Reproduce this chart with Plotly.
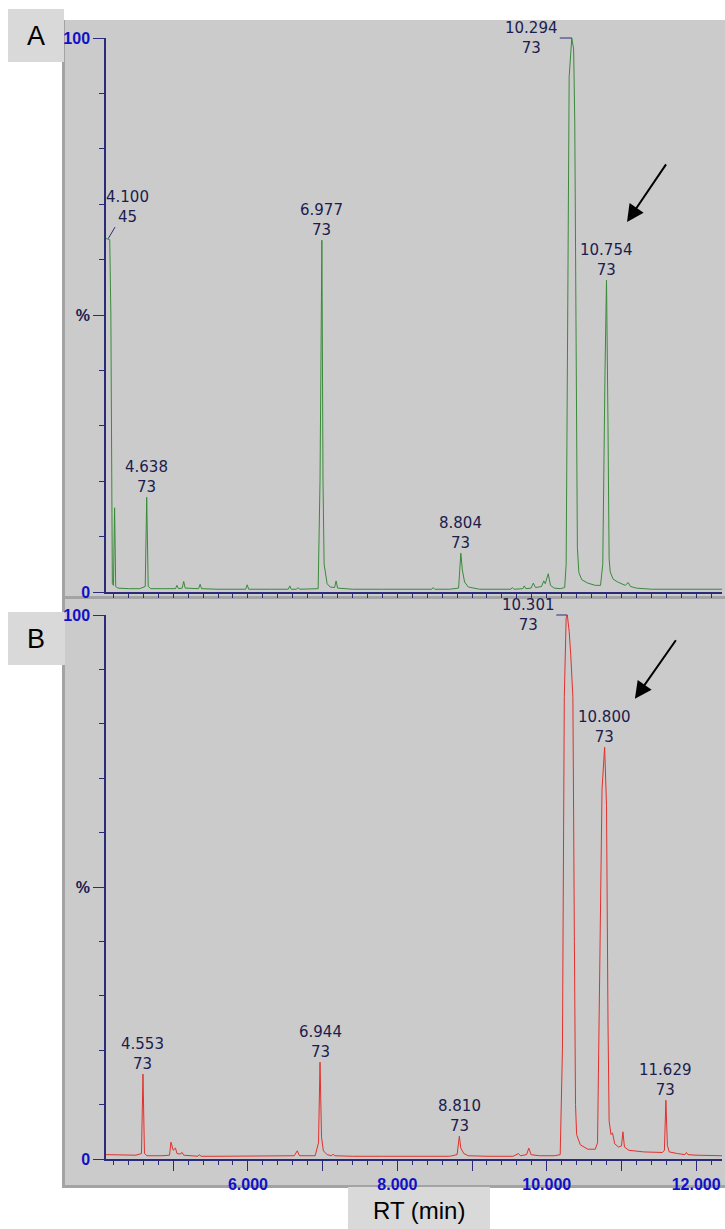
import plotly.graph_objects as go

W, H = 725, 1229

# ---------------- data (retention time in min, relative intensity in %) ----------------
rt_a = [4.10, 4.15, 4.165, 4.175, 4.185, 4.20, 4.215, 4.23, 4.26, 4.40, 4.55, 4.625, 4.645, 4.665,
        4.70, 4.90, 5.03, 5.05, 5.07, 5.12, 5.14, 5.16, 5.34, 5.36, 5.38, 5.60, 5.97, 5.99, 6.01,
        6.30, 6.54, 6.56, 6.58, 6.65, 6.67, 6.69, 6.94, 6.965, 6.99, 7.005, 7.02, 7.06, 7.10, 7.16,
        7.18, 7.20, 7.40, 7.80, 8.20, 8.46, 8.48, 8.50, 8.70, 8.82, 8.85, 8.87, 8.90, 8.95, 9.10,
        9.40, 9.52, 9.54, 9.56, 9.68, 9.70, 9.72, 9.79, 9.82, 9.85, 9.93, 9.96, 9.98, 10.02, 10.05,
        10.10, 10.18, 10.24, 10.26, 10.28, 10.30, 10.335, 10.36, 10.375, 10.39, 10.41, 10.43, 10.47,
        10.55, 10.65, 10.72, 10.75, 10.78, 10.80, 10.82, 10.835, 10.85, 10.865, 10.89, 10.95, 11.05,
        11.09, 11.12, 11.20, 11.40, 11.70, 12.00, 12.346]
int_a = [63.8, 63.6, 50, 8, 1.5, 1.2, 15.2, 1.0, 0.7, 0.6, 0.6, 1.0, 17.1, 1.0,
         0.6, 0.6, 0.6, 1.2, 0.6, 0.7, 1.9, 0.7, 0.6, 1.4, 0.6, 0.5, 0.5, 1.3, 0.5,
         0.5, 0.5, 1.1, 0.5, 0.5, 0.8, 0.5, 0.6, 20, 63.5, 20, 5, 1.5, 0.9, 0.8,
         2.0, 0.7, 0.5, 0.5, 0.5, 0.5, 0.8, 0.5, 0.5, 0.7, 7.0, 4.0, 1.8, 0.9, 0.5,
         0.5, 0.5, 0.8, 0.5, 0.6, 1.1, 0.6, 0.7, 1.6, 0.8, 1.0, 2.0, 1.5, 3.3, 1.2,
         0.7, 0.6, 0.8, 5, 50, 93, 100, 98, 85, 50, 8, 3.5, 2.2,
         1.6, 1.2, 1.2, 5, 40, 56.3, 30, 6, 3.6, 3.2, 2.3, 1.8, 1.2,
         1.7, 1.0, 0.7, 0.5, 0.5, 0.5, 0.5]

rt_b = [4.10, 4.30, 4.50, 4.575, 4.595, 4.615, 4.65, 4.85, 4.95, 4.97, 5.00, 5.03, 5.05, 5.09,
        5.12, 5.14, 5.20, 5.33, 5.35, 5.37, 5.60, 5.97, 5.99, 6.01, 6.40, 6.62, 6.66, 6.69, 6.90,
        6.945, 6.965, 6.985, 7.01, 7.06, 7.12, 7.14, 7.16, 7.40, 7.80, 8.30, 8.70, 8.80, 8.83,
        8.85, 8.89, 8.95, 9.20, 9.55, 9.62, 9.65, 9.73, 9.76, 9.79, 9.90, 10.10, 10.18, 10.21,
        10.235, 10.26, 10.275, 10.30, 10.32, 10.35, 10.37, 10.385, 10.40, 10.45, 10.55, 10.65,
        10.68, 10.71, 10.74, 10.775, 10.80, 10.82, 10.835, 10.86, 10.88, 10.91, 10.96, 11.00,
        11.02, 11.04, 11.10, 11.30, 11.55, 11.575, 11.595, 11.615, 11.64, 11.75, 11.85, 11.87,
        11.89, 12.00, 12.346]
int_b = [0.8, 0.7, 0.7, 1.0, 15.6, 1.0, 0.6, 0.6, 0.7, 3.1, 1.6, 2.0, 1.0, 0.9,
         1.2, 0.7, 0.6, 0.5, 0.8, 0.5, 0.5, 0.5, 0.6, 0.5, 0.5, 0.6, 1.5, 0.6, 0.6,
         3, 17.8, 4, 1.5, 0.8, 0.6, 0.9, 0.6, 0.5, 0.5, 0.5, 0.5, 0.8, 4.2,
         2.0, 1.0, 0.6, 0.5, 0.5, 1.0, 0.6, 0.8, 2.0, 0.8, 0.6, 0.6, 0.8, 20,
         85, 99.5, 100, 97, 93, 85, 40, 10, 4.5, 2.6, 1.8, 1.8,
         3.0, 35, 68, 75.7, 65, 25, 7, 4.5, 4.8, 2.8, 2.2, 2.4,
         5.0, 2.2, 1.6, 1.3, 1.2, 1.6, 10.8, 2.5, 1.3, 1.0, 0.8, 1.2,
         0.8, 0.7, 0.6]

# peak labels (apex position and label text)
peak_a_x = [4.13, 4.645, 6.99, 8.85, 10.335, 10.80]
peak_a_y = [63.8, 17.1, 63.5, 7.0, 100, 56.3]
peak_a_rt = ["4.100", "4.638", "6.977", "8.804", "10.294", "10.754"]
peak_a_mz = ["45", "73", "73", "73", "73", "73"]

peak_b_x = [4.595, 6.965, 8.83, 10.275, 10.775, 11.595]
peak_b_y = [15.6, 17.8, 4.2, 100, 75.7, 10.8]
peak_b_rt = ["4.553", "6.944", "8.810", "10.301", "10.800", "11.629"]
peak_b_mz = ["73", "73", "73", "73", "73", "73"]

x_tickvals = [5, 6, 7, 8, 9, 10, 11, 12]
x_ticktext = ["", "6.000", "", "8.000", "", "10.000", "", "12.000"]
y_tickvals = [0, 50, 100]

# ---------------- styling ----------------
FONT = "Liberation Sans, Arial, Helvetica, sans-serif"
LFONT = "DejaVu Sans, Liberation Sans, sans-serif"
NAVY = "#2b2b7a"
BLUE = "#1010c8"
LABEL = "#1c1c4e"
PANEL = "#cbcbcb"
EDGE = "#a3a3a3"
BOX = "#d9d9d9"
X_RANGE = [4.10, 12.346]

def px(x):
    return x / W

def py(y):
    return 1 - y / H

fig = go.Figure()
fig.add_trace(go.Scatter(x=rt_a, y=int_a, mode="lines", line=dict(color="#3a8a3a", width=1),
                         xaxis="x", yaxis="y", hoverinfo="skip"))
fig.add_trace(go.Scatter(x=rt_b, y=int_b, mode="lines", line=dict(color="#e3302c", width=1),
                         xaxis="x2", yaxis="y2", hoverinfo="skip"))

y_ticktext = ["<b>0</b>", '<b><span style="color:%s">%%</span></b>' % LABEL, "<b>100</b>"]

def yaxis(domain, anchor):
    return dict(domain=domain, anchor=anchor, range=[0, 100], showgrid=False, zeroline=False,
                automargin=False,
                showline=True, linecolor=NAVY, linewidth=1.5, ticks="outside", ticklen=11,
                tickcolor=NAVY, tickwidth=1.2, tickvals=y_tickvals, ticktext=y_ticktext,
                tickfont=dict(family=FONT, size=16, color=BLUE), fixedrange=True,
                minor=dict(dtick=10, tick0=0, ticks="outside", ticklen=5, tickcolor=NAVY, tickwidth=1.2))

def xaxis(domain, anchor, labels, major_len):
    return dict(domain=domain, anchor=anchor, range=X_RANGE, showgrid=False, zeroline=False,
                automargin=False,
                showline=True, linecolor=NAVY, linewidth=1.5, ticks="outside", ticklen=major_len,
                tickcolor=NAVY, tickwidth=1.2, tickvals=x_tickvals,
                ticktext=["<b>%s</b>" % t if t else "" for t in x_ticktext] if labels else [""] * len(x_tickvals),
                showticklabels=labels,
                tickfont=dict(family=FONT, size=16, color=BLUE), fixedrange=True,
                minor=dict(dtick=0.2, tick0=4, ticks="outside", ticklen=4, tickcolor=NAVY, tickwidth=1.2))

xdom = [px(106), px(722)]
fig.update_layout(
    template="none",
    width=W, height=H, margin=dict(l=0, r=0, t=0, b=0, pad=0, autoexpand=False),
    paper_bgcolor="white", plot_bgcolor="rgba(0,0,0,0)", showlegend=False,
    xaxis=xaxis(xdom, "y", False, 5),
    yaxis=yaxis([py(592), py(38)], "x"),
    xaxis2=xaxis(xdom, "y2", True, 10),
    yaxis2=yaxis([py(1159), py(615)], "x2"),
)

shapes = []
def rect(x0, y0, x1, y1, color):
    shapes.append(dict(type="rect", xref="paper", yref="paper", x0=px(x0), x1=px(x1),
                       y0=py(y1), y1=py(y0), fillcolor=color, line=dict(width=0), layer="below"))

# panel A
rect(62, 20, 725, 599, PANEL)
rect(62, 20, 65, 599, EDGE)
rect(62, 596, 725, 599, EDGE)
# panel B
rect(62, 599, 725, 1188, PANEL)
rect(62, 599, 65, 1188, EDGE)
rect(62, 1185, 725, 1188, EDGE)
# label boxes
rect(8, 9, 64, 62, BOX)
rect(8, 612, 65, 665, BOX)
rect(348, 1187, 490, 1229, BOX)
fig.update_layout(shapes=shapes)

ann = []
lab_font = dict(family=LFONT, size=15, color=LABEL)

def peak_labels(xs, ys, rts, mzs, xr, yr, connectors):
    for x, y, rt, mz in zip(xs, ys, rts, mzs):
        txt = "%s<br>%s" % (rt, mz)
        if rt in connectors:
            ax, ay = connectors[rt]
            ann.append(dict(x=x, y=y, xref=xr, yref=yr, text=txt, showarrow=True, arrowhead=0,
                            arrowwidth=1, arrowcolor=NAVY, ax=ax, ay=ay, standoff=0,
                            font=lab_font, align="center"))
        else:
            ann.append(dict(x=x, y=y, xref=xr, yref=yr, text=txt, showarrow=False,
                            xanchor="center", yanchor="bottom", yshift=-1, font=lab_font,
                            align="center"))

peak_labels(peak_a_x, peak_a_y, peak_a_rt, peak_a_mz, "x", "y",
            {"4.100": (19, -32), "10.294": (-40, 0)})
peak_labels(peak_b_x, peak_b_y, peak_b_rt, peak_b_mz, "x2", "y2",
            {"10.301": (-39, 0)})

# black arrows pointing at the peak of interest
ann.append(dict(x=11.075, y=66.8, xref="x", yref="y", text="", showarrow=True, arrowhead=2,
                arrowsize=1.7, arrowwidth=2, arrowcolor="black", ax=40, ay=-59, standoff=0))
ann.append(dict(x=11.18, y=84.6, xref="x2", yref="y2", text="", showarrow=True, arrowhead=2,
                arrowsize=1.7, arrowwidth=2, arrowcolor="black", ax=42, ay=-60, standoff=0))

# panel letters and axis title
for txt, cx, cy, size in [("A", 36, 36, 27), ("B", 36, 639, 27), ("RT (min)", 419, 1210, 24)]:
    ann.append(dict(x=px(cx), y=py(cy), xref="paper", yref="paper", text=txt, showarrow=False,
                    xanchor="center", yanchor="middle",
                    font=dict(family=FONT, size=size, color="black")))
fig.update_layout(annotations=ann)

fig.write_html("out.html")
